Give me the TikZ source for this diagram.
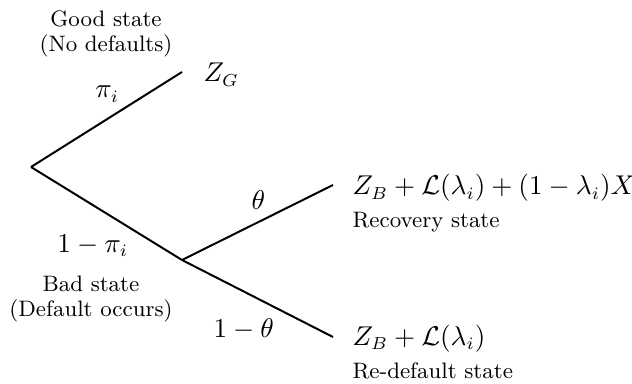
\documentclass[tikz,border=0pt]{standalone}
\begin{document}
\begin{tikzpicture}[x=0.403pt,y=-0.403pt,
  branch/.style={line width=0.8pt},
  mathlbl/.style={inner sep=0pt,anchor=base west,font=\fontsize{10.7}{13}\selectfont},
  statelbl/.style={inner sep=0pt,font=\fontsize{9}{10.2}\selectfont,align=center},
  statesub/.style={inner sep=0pt,anchor=base west,font=\fontsize{9}{10.2}\selectfont}]
\useasboundingbox (0,0) rectangle (632,383);
% branch points
\coordinate (root) at (31,167);
\coordinate (gend) at (182,72);
\coordinate (mid) at (182,260);
\coordinate (rend) at (333,185);
\coordinate (dend) at (333,337);
% branches
\draw[branch] (root) -- (gend);
\draw[branch] (root) -- (mid);
\draw[branch] (mid) -- (rend);
\draw[branch] (mid) -- (dend);
% outcomes
\node[mathlbl] (zg) at (203,82) {$Z_G$};
\node[mathlbl] (zr) at (352,195) {$Z_B+\mathcal{L}(\lambda_i)+(1-\lambda_i)X$};
\node[statesub] (rec) at (352,227) {Recovery state};
\node[mathlbl] (zd) at (352,345) {$Z_B+\mathcal{L}(\lambda_i)$};
\node[statesub] (red) at (352,378) {Re-default state};
% probabilities
\node[mathlbl] (pi) at (95,98) {$\pi_i$};
\node[mathlbl] (opi) at (57,252) {$1-\pi_i$};
\node[mathlbl] (th) at (251,209) {$\theta$};
\node[mathlbl] (oth) at (213,337) {$1-\theta$};
% state descriptions
\node[statelbl] (good) at (106,34) {Good state\\(No defaults)};
\node[statelbl] (bad) at (91,299) {Bad state\\(Default occurs)};
\end{tikzpicture}
\end{document}
